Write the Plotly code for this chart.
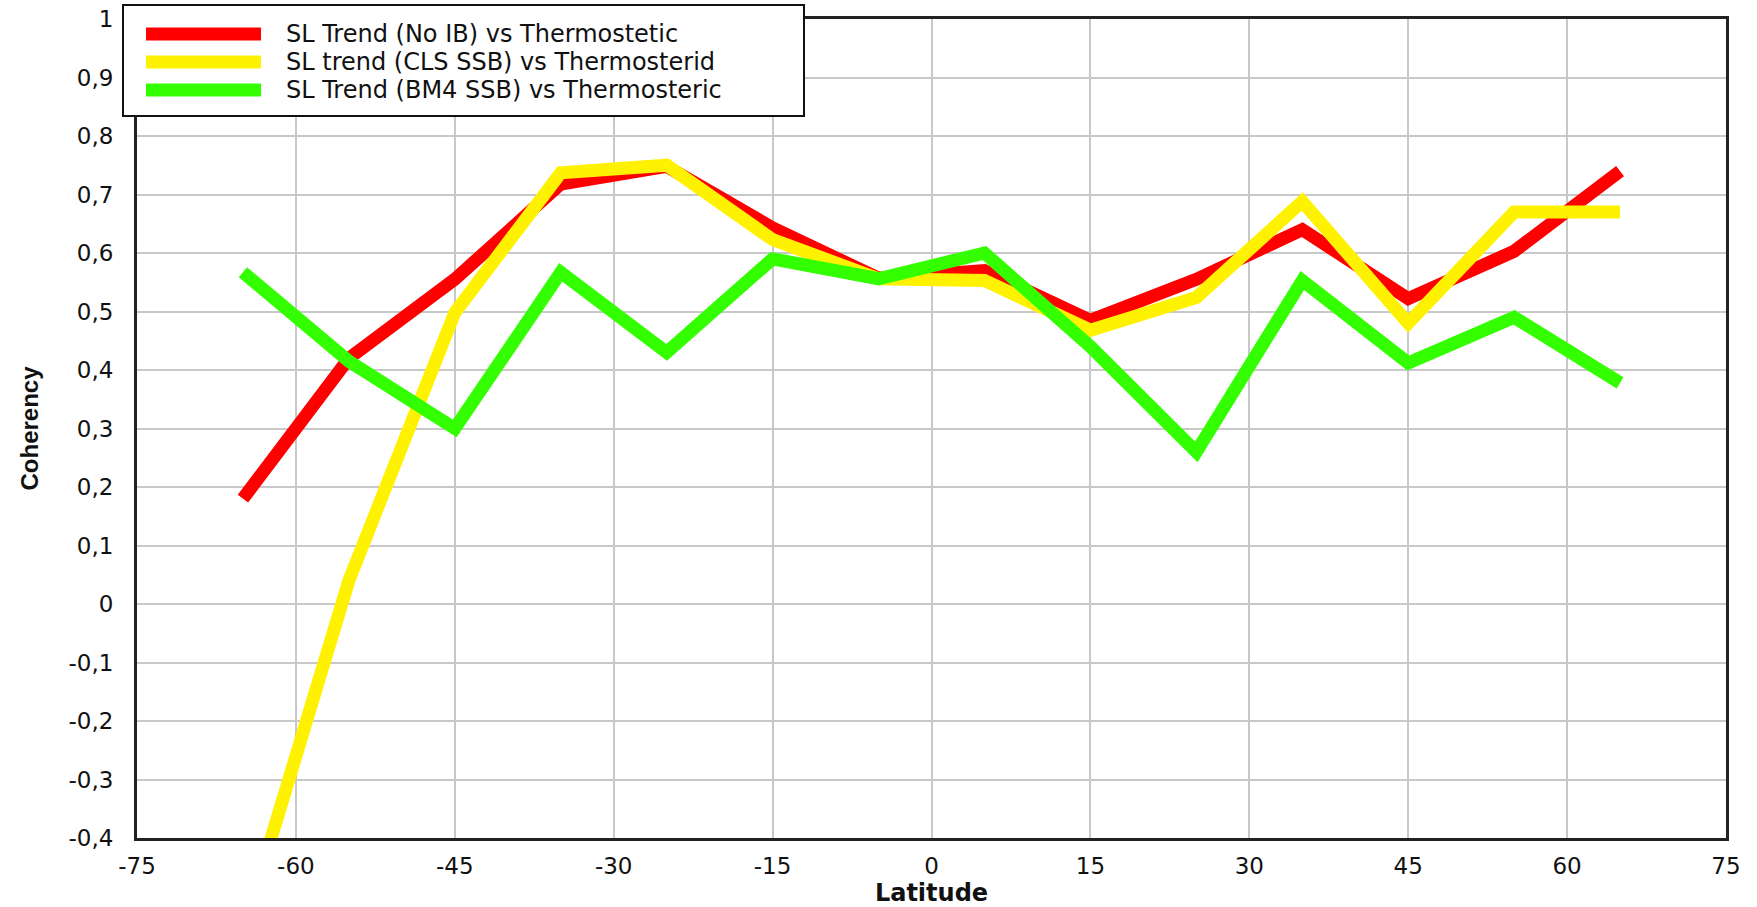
import plotly.graph_objects as go

# ---------------- data ----------------
latitude = [-65, -55, -45, -35, -25, -15, -5, 5, 15, 25, 35, 45, 55, 65]
sl_no_ib = [0.18, 0.42, 0.555, 0.718, 0.748, 0.643, 0.557, 0.57, 0.485, 0.555, 0.64, 0.522, 0.603, 0.74]
sl_cls_ssb = [-0.56, 0.04, 0.498, 0.737, 0.75, 0.623, 0.556, 0.553, 0.468, 0.524, 0.688, 0.48, 0.67, 0.67]
sl_bm4_ssb = [0.567, 0.415, 0.30, 0.567, 0.43, 0.59, 0.556, 0.60, 0.44, 0.26, 0.553, 0.412, 0.49, 0.378]

series_names = [
    "SL Trend (No IB) vs Thermostetic",
    "SL trend (CLS SSB) vs Thermosterid",
    "SL Trend (BM4 SSB) vs Thermosteric",
]
series_values = [sl_no_ib, sl_cls_ssb, sl_bm4_ssb]
series_colors = ["#FF0000", "#FFF200", "#33FF00"]

x_tick_values = [-75, -60, -45, -30, -15, 0, 15, 30, 45, 60, 75]
x_tick_labels = ["-75", "-60", "-45", "-30", "-15", "0", "15", "30", "45", "60", "75"]
y_tick_values = [-0.4, -0.3, -0.2, -0.1, 0, 0.1, 0.2, 0.3, 0.4, 0.5, 0.6, 0.7, 0.8, 0.9, 1.0]
y_tick_labels = ["-0,4", "-0,3", "-0,2", "-0,1", "0", "0,1", "0,2", "0,3", "0,4",
                 "0,5", "0,6", "0,7", "0,8", "0,9", "1"]

# ---------------- layout geometry (pixels) ----------------
W, H = 1757, 907
M_L, M_R, M_T, M_B = 137, 31, 19, 69
PW = W - M_L - M_R
PH = H - M_T - M_B


def px_x(px):
    return (px - M_L) / PW


def px_y(py):
    return (H - M_B - py) / PH


fig = go.Figure()
for name, vals, col in zip(series_names, series_values, series_colors):
    fig.add_trace(go.Scatter(
        x=latitude, y=vals, mode="lines", name=name,
        line=dict(color=col, width=13),
        showlegend=False,
    ))

tick_font = dict(family="DejaVu Sans", size=23, color="#111111")

fig.update_xaxes(
    range=[-75, 75], tickmode="array", tickvals=x_tick_values, ticktext=x_tick_labels,
    showgrid=True, gridcolor="#C8C8C8", gridwidth=2,
    showline=True, linecolor="#222222", linewidth=3, mirror=True,
    zeroline=False, ticks="", ticklabelstandoff=5, tickfont=tick_font,
    title=dict(text="<b>Latitude</b>", font=dict(family="DejaVu Sans", size=24, color="#111111"),
               standoff=2),
    automargin=False,
)
fig.update_yaxes(
    range=[-0.4, 1.0], tickmode="array", tickvals=y_tick_values, ticktext=y_tick_labels,
    showgrid=True, gridcolor="#C8C8C8", gridwidth=2,
    showline=True, linecolor="#222222", linewidth=3, mirror=True,
    zeroline=False, ticks="", ticklabelstandoff=16, tickfont=tick_font,
    title=dict(text="<b>Coherency</b>", font=dict(family="Liberation Sans", size=24, color="#111111"),
               standoff=24),
    automargin=False,
)

# ---------------- custom legend box ----------------
shapes = [dict(type="rect", xref="paper", yref="paper",
               x0=px_x(123), x1=px_x(804), y0=px_y(116), y1=px_y(5),
               fillcolor="white", line=dict(color="#111111", width=2), layer="above")]
annotations = []
row_centers = [34, 62, 90]
for name, col, cy in zip(series_names, series_colors, row_centers):
    shapes.append(dict(type="line", xref="paper", yref="paper",
                       x0=px_x(146), x1=px_x(261), y0=px_y(cy), y1=px_y(cy),
                       line=dict(color=col, width=13), layer="above"))
    annotations.append(dict(xref="paper", yref="paper", x=px_x(284), y=px_y(cy),
                            xanchor="left", yanchor="middle", showarrow=False, text=name,
                            font=dict(family="DejaVu Sans", size=24, color="#111111")))

fig.update_layout(
    width=W, height=H,
    margin=dict(l=M_L, r=M_R, t=M_T, b=M_B, pad=0),
    paper_bgcolor="white", plot_bgcolor="white",
    shapes=shapes, annotations=annotations,
    showlegend=False,
)

fig.write_html("out.html")
